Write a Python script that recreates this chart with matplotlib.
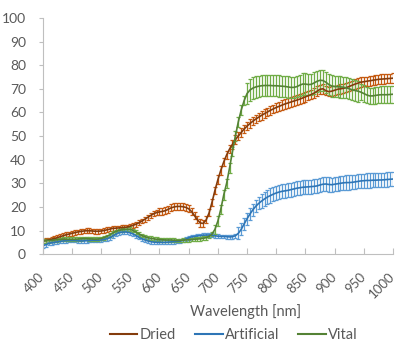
import matplotlib
matplotlib.use("Agg")
import matplotlib.pyplot as plt
from matplotlib.lines import Line2D
import numpy as np

plt.rcParams['font.family'] = ['Lato', 'DejaVu Sans']

# wavelengths, 5 nm step
wavelength = np.arange(400, 1001, 5)

dried = [
    5.5, 5.8, 6.0, 6.3, 6.6, 7.0, 7.4, 7.8, 8.2, 8.5,
    8.8, 9.1, 9.4, 9.6, 9.8, 9.9, 9.9, 9.8, 9.7, 9.7,
    9.8, 10.0, 10.3, 10.6, 10.9, 11.0, 11.1, 11.2, 11.3, 11.5,
    11.8, 12.2, 12.7, 13.3, 14.0, 14.8, 15.6, 16.4, 17.1, 17.6,
    17.9, 18.1, 18.4, 19.0, 19.6, 20.0, 20.2, 20.2, 20.1, 19.8,
    19.2, 18.0, 16.3, 14.5, 13.2, 13.0, 14.5, 17.5, 22.0, 27.0,
    31.5, 35.5, 39.0, 42.0, 44.5, 46.5, 48.5, 50.0, 51.5, 53.0,
    54.2, 55.3, 56.3, 57.2, 58.0, 58.8, 59.5, 60.2, 60.9, 61.5,
    62.1, 62.6, 63.1, 63.6, 64.0, 64.4, 64.8, 65.2, 65.6, 66.1,
    66.6, 67.1, 67.6, 68.2, 69.0, 69.8, 70.0, 69.2, 68.8, 69.0,
    69.4, 69.8, 70.0, 70.2, 70.5, 71.0, 71.5, 72.0, 72.4, 72.8,
    73.0, 73.2, 73.4, 73.6, 73.8, 74.0, 74.1, 74.2, 74.3, 74.4,
    74.5,
]
artificial = [
    3.5, 4.0, 4.5, 4.8, 5.0, 5.2, 5.4, 5.6, 5.7, 5.8,
    5.8, 5.8, 5.7, 5.6, 5.6, 5.7, 5.8, 5.9, 5.9, 5.9,
    6.0, 6.2, 6.5, 7.0, 7.7, 8.4, 9.0, 9.3, 9.4, 9.3,
    9.0, 8.5, 7.8, 7.1, 6.5, 6.0, 5.6, 5.3, 5.1, 5.0,
    5.0, 5.0, 5.0, 5.1, 5.2, 5.3, 5.4, 5.5, 5.8, 6.3,
    6.9, 7.3, 7.5, 7.7, 7.9, 8.0, 8.1, 8.1, 8.0, 7.8,
    7.6, 7.5, 7.5, 7.4, 7.3, 7.4, 7.8, 8.8, 10.5, 12.8,
    15.0, 17.0, 18.8, 20.3, 21.5, 22.5, 23.4, 24.2, 24.8, 25.4,
    25.9, 26.3, 26.6, 26.8, 27.0, 27.3, 27.6, 27.9, 28.1, 28.3,
    28.4, 28.5, 28.6, 28.7, 28.9, 29.3, 29.6, 29.7, 29.5, 29.4,
    29.6, 29.8, 30.0, 30.2, 30.3, 30.3, 30.4, 30.6, 30.8, 31.0,
    31.1, 31.2, 31.2, 31.3, 31.3, 31.4, 31.4, 31.5, 31.6, 31.7,
    31.8,
]
vital = [
    5.5, 5.6, 5.7, 5.8, 6.0, 6.1, 6.2, 6.3, 6.3, 6.3,
    6.3, 6.3, 6.4, 6.5, 6.6, 6.6, 6.5, 6.4, 6.3, 6.4,
    6.6, 7.0, 7.5, 8.2, 9.0, 9.6, 10.0, 10.3, 10.5, 10.6,
    10.5, 10.0, 9.3, 8.5, 7.9, 7.4, 7.0, 6.7, 6.5, 6.3,
    6.2, 6.1, 6.0, 6.0, 6.0, 5.9, 5.8, 5.8, 5.9, 6.0,
    6.1, 6.2, 6.3, 6.4, 6.5, 6.7, 7.0, 7.5, 8.5, 10.5,
    14.0, 19.0, 25.0, 30.0, 36.5, 43.5, 50.0, 56.0, 61.0, 65.0,
    68.0, 69.5, 70.3, 70.8, 71.1, 71.3, 71.4, 71.4, 71.4, 71.3,
    71.3, 71.2, 71.1, 71.0, 70.8, 70.6, 70.6, 70.9, 71.5, 72.0,
    72.0, 71.8, 71.9, 72.5, 73.2, 73.6, 73.5, 72.8, 71.8, 71.2,
    71.0, 70.9, 70.8, 70.7, 70.4, 70.0, 69.6, 69.3, 69.0, 68.6,
    68.0, 67.4, 67.0, 67.0, 67.2, 67.4, 67.5, 67.5, 67.5, 67.6,
    67.7,
]

# standard deviations (error bars)
dried_err = [1.0] * 40 + [1.5] * 20 + [1.8] * 20 + [2.0] * 41
artificial_err = [0.8] * 67 + [2.5] * 8 + [3.0] * 46
vital_err = [0.8] * 59 + [2.0] * 11 + [4.5] * 39 + [3.5] * 12

series = [
    ("Dried", dried, dried_err, "#843C0C", "#C55A11"),
    ("Artificial", artificial, artificial_err, "#2E75B6", "#5B9BD5"),
    ("Vital", vital, vital_err, "#548235", "#70AD47"),
]

fig = plt.figure(figsize=(4.15, 3.52), dpi=100)
ax = fig.add_axes([0.103, 0.278, 0.844, 0.671])

for name, vals, err, col, ecol in series:
    ax.errorbar(wavelength, vals, yerr=err, color=col, ecolor=ecol,
                elinewidth=0.9, capsize=1.6, capthick=0.9, linewidth=1.2,
                label=name)

ax.set_xlim(400, 1000)
ax.set_ylim(0, 100)
ax.set_xticks(np.arange(400, 1001, 50))
ax.set_yticks(np.arange(0, 101, 10))

grey = "#595959"
for s in ["top", "right"]:
    ax.spines[s].set_visible(False)
for s in ["left", "bottom"]:
    ax.spines[s].set_color("#BFBFBF")
ax.tick_params(axis="x", direction="in", length=4, color="#BFBFBF",
               labelsize=9.5, labelcolor=grey, pad=15)
ax.tick_params(axis="y", direction="out", length=3, color="#BFBFBF",
               labelsize=10, labelcolor=grey, pad=9)
plt.setp(ax.get_xticklabels(), rotation=45, ha="right", va="center",
         rotation_mode="anchor")

ax.set_xlabel("Wavelength [nm]", fontsize=10.5, color=grey)
ax.xaxis.set_label_coords(0.578, -0.21)

labels = [s[0] for s in series]
leg_handles = [Line2D([], [], color=c, linewidth=1.5) for _, _, _, c, _ in series]
fig.legend(leg_handles, labels, loc="center", bbox_to_anchor=(0.563, 0.047),
           ncol=3, frameon=False, fontsize=10.5, handlelength=1.9,
           handletextpad=0.15, columnspacing=1.3, labelcolor=grey)

fig.savefig("out.png", dpi=100)
